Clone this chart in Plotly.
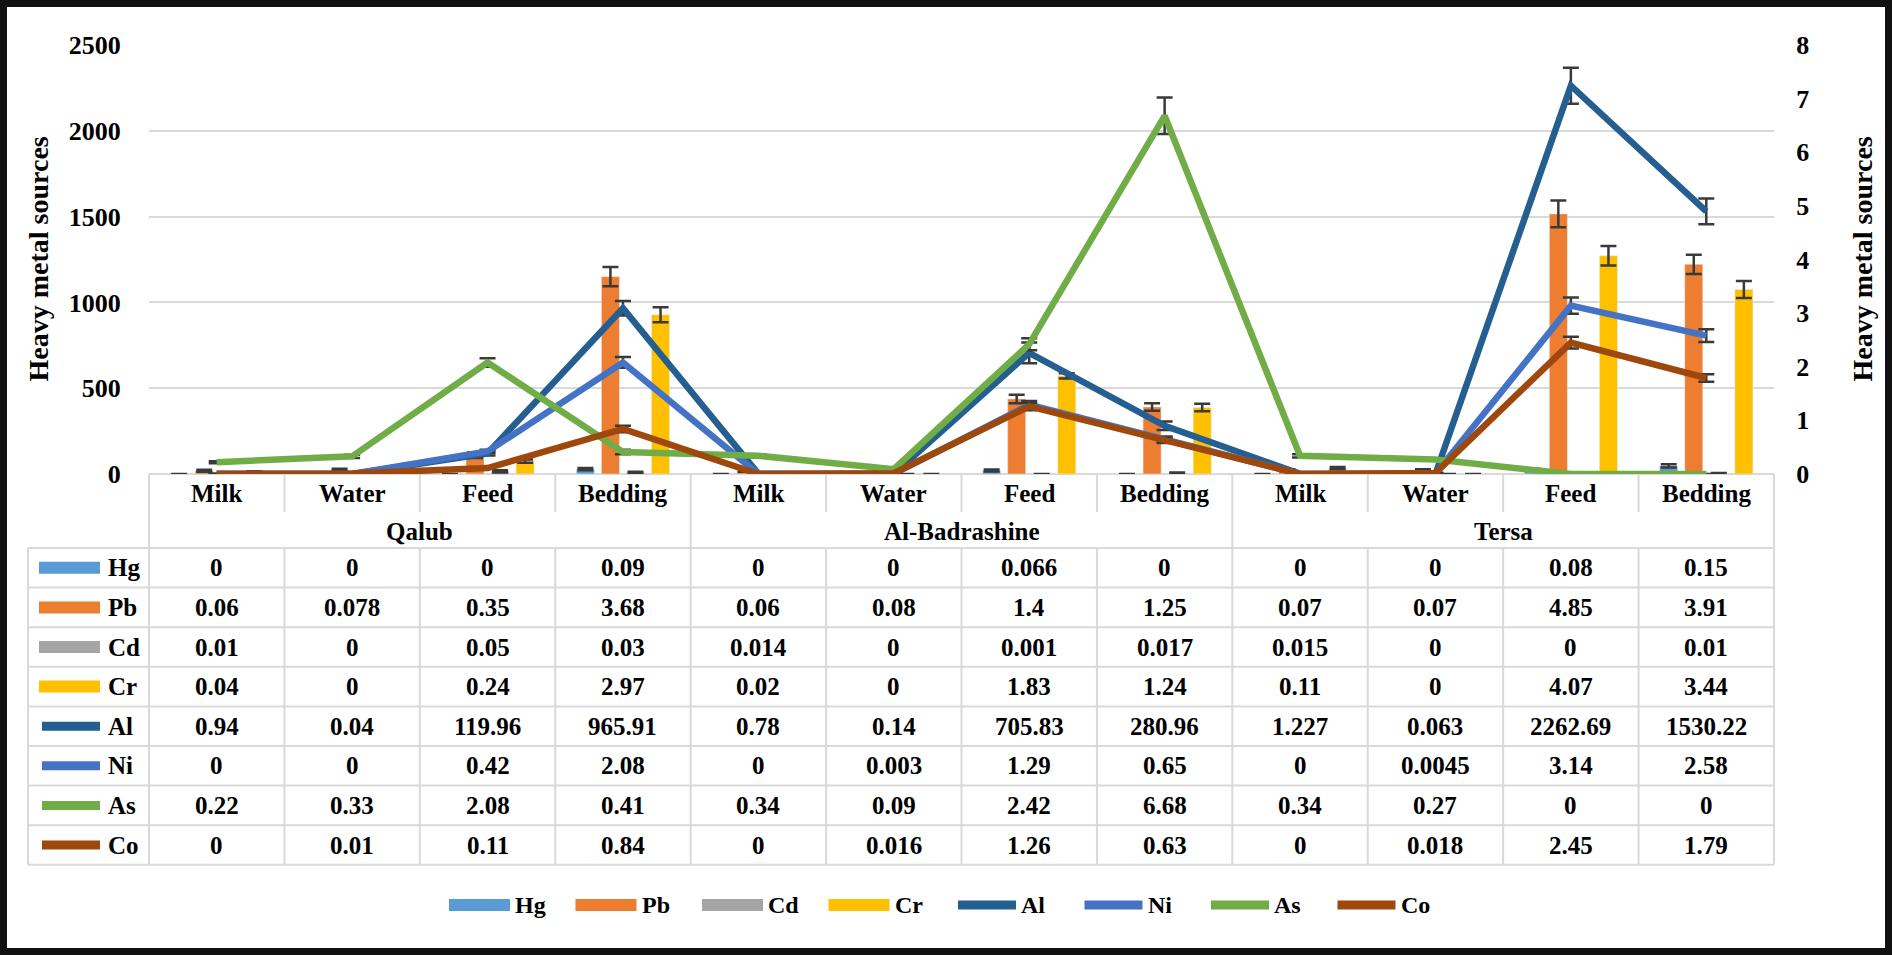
import plotly.graph_objects as go

# categories
sites = ["Qalub", "Al-Badrashine", "Tersa"]
sources = ["Milk", "Water", "Feed", "Bedding"]

# concentrations (bars: Hg, Pb, Cd, Cr; lines: Al, Ni, As, Co)
hg = [0, 0, 0, 0.09, 0, 0, 0.066, 0, 0, 0, 0.08, 0.15]
pb = [0.06, 0.078, 0.35, 3.68, 0.06, 0.08, 1.4, 1.25, 0.07, 0.07, 4.85, 3.91]
cd = [0.01, 0, 0.05, 0.03, 0.014, 0, 0.001, 0.017, 0.015, 0, 0, 0.01]
cr = [0.04, 0, 0.24, 2.97, 0.02, 0, 1.83, 1.24, 0.11, 0, 4.07, 3.44]
al = [0.94, 0.04, 119.96, 965.91, 0.78, 0.14, 705.83, 280.96, 1.227, 0.063, 2262.69, 1530.22]
ni = [0, 0, 0.42, 2.08, 0, 0.003, 1.29, 0.65, 0, 0.0045, 3.14, 2.58]
as_ = [0.22, 0.33, 2.08, 0.41, 0.34, 0.09, 2.42, 6.68, 0.34, 0.27, 0, 0]
co = [0, 0.01, 0.11, 0.84, 0, 0.016, 1.26, 0.63, 0, 0.018, 2.45, 1.79]

# error bar sizes
hg_err = [0, 0, 0, 0.02, 0, 0, 0.02, 0, 0, 0, 0.02, 0.03]
pb_err = [0.02, 0.02, 0.05, 0.18, 0.02, 0.02, 0.08, 0.07, 0.02, 0.02, 0.25, 0.18]
cd_err = [0.01, 0, 0.02, 0.01, 0.01, 0, 0, 0.01, 0.01, 0, 0, 0.01]
cr_err = [0.01, 0, 0.03, 0.14, 0.01, 0, 0.05, 0.07, 0.02, 0, 0.18, 0.16]
al_err = [0.2, 0.01, 12, 42, 0.2, 0.05, 60, 25, 0.3, 0.02, 105, 75]
ni_err = [0, 0, 0.03, 0.1, 0, 0.001, 0.07, 0.05, 0, 0.001, 0.15, 0.12]
as_err = [0.02, 0.03, 0.08, 0.04, 0.03, 0.01, 0.11, 0.34, 0.03, 0.02, 0, 0]
co_err = [0, 0.002, 0.01, 0.06, 0, 0.003, 0.07, 0.05, 0, 0.003, 0.11, 0.07]

left_ticks = [0, 500, 1000, 1500, 2000, 2500]
right_ticks = [0, 1, 2, 3, 4, 5, 6, 7, 8]

series = [
    ("Hg", hg, hg_err, "#5B9BD5", "bar"),
    ("Pb", pb, pb_err, "#ED7D31", "bar"),
    ("Cd", cd, cd_err, "#A5A5A5", "bar"),
    ("Cr", cr, cr_err, "#FFC000", "bar"),
    ("Al", al, al_err, "#255E91", "line"),
    ("Ni", ni, ni_err, "#4472C4", "line"),
    ("As", as_, as_err, "#70AD47", "line"),
    ("Co", co, co_err, "#9E480E", "line"),
]

cats = [f"{s} {src}" for s in sites for src in sources]
FONT = "Liberation Serif"

W, H = 1892, 955
L, R, T, B = 149, 118, 45, 481
PW = W - L - R
PH = H - T - B


def px_x(p):
    return (p - L) / PW


def px_y(p):
    return (H - B - p) / PH


def fmt(v):
    return f"{v:g}"


def label(x, y, text, size=25, xref="paper", xanchor="center", angle=0):
    return dict(x=x, y=y, xref=xref, yref="paper", text=text, showarrow=False,
                xanchor=xanchor, yanchor="middle", textangle=angle,
                font=dict(size=size, family=FONT, color="black", weight="bold"))


fig = go.Figure()
for name, vals, err, color, kind in series:
    eb = dict(type="data", array=err, color="#3a3a3a", thickness=2.5, width=8)
    if kind == "bar":
        fig.add_trace(go.Bar(x=cats, y=vals, name=name, marker_color=color,
                             error_y=eb, yaxis="y", showlegend=False))
    else:
        fig.add_trace(go.Scatter(x=cats, y=vals, name=name, mode="lines",
                                 line=dict(color=color, width=6.5),
                                 error_y=eb, yaxis="y2" if name == "Al" else "y3",
                                 showlegend=False))

shapes = []
annos = []
grid = "#D9D9D9"

# black frame
shapes.append(dict(type="rect", xref="paper", yref="paper",
                   x0=px_x(0), x1=px_x(W), y0=px_y(0), y1=px_y(H),
                   line=dict(color="#111111", width=14)))

# table geometry (px)
hdr_bottom, tbl_top, row_h, tbl_left, lab_left = 512, 548, 39.6, 28, 106
tbl_bottom = tbl_top + row_h * len(series)
n = len(cats)
for k in range(n + 1):
    xk = k / n
    if k % len(sources) == 0:
        shapes.append(dict(type="line", xref="paper", yref="paper", x0=xk, x1=xk,
                           y0=px_y(H - B), y1=px_y(tbl_bottom), line=dict(color=grid, width=2)))
    else:
        shapes.append(dict(type="line", xref="paper", yref="paper", x0=xk, x1=xk,
                           y0=px_y(H - B), y1=px_y(hdr_bottom), line=dict(color=grid, width=2)))
        shapes.append(dict(type="line", xref="paper", yref="paper", x0=xk, x1=xk,
                           y0=px_y(tbl_top), y1=px_y(tbl_bottom), line=dict(color=grid, width=2)))
shapes.append(dict(type="line", xref="paper", yref="paper", x0=px_x(tbl_left), x1=px_x(tbl_left),
                   y0=px_y(tbl_top), y1=px_y(tbl_bottom), line=dict(color=grid, width=2)))
for j in range(len(series) + 1):
    yj = px_y(tbl_top + j * row_h)
    shapes.append(dict(type="line", xref="paper", yref="paper", x0=px_x(tbl_left), x1=1,
                       y0=yj, y1=yj, line=dict(color=grid, width=2)))

# header labels
for i, c in enumerate(cats):
    annos.append(label(i, px_y(493), sources[i % 4], xref="x"))
for g, s in enumerate(sites):
    annos.append(label(g * 4 + 1.5, px_y(531), s, xref="x"))

# table rows
for j, (name, vals, err, color, kind) in enumerate(series):
    yc = tbl_top + (j + 0.5) * row_h
    for i, v in enumerate(vals):
        annos.append(label(i, px_y(yc), fmt(v), xref="x"))
    annos.append(label(px_x(lab_left), px_y(yc), name, xanchor="left"))
    if kind == "bar":
        shapes.append(dict(type="rect", xref="paper", yref="paper", x0=px_x(39), x1=px_x(100),
                           y0=px_y(yc - 6), y1=px_y(yc + 6), fillcolor=color, line=dict(width=0)))
    else:
        shapes.append(dict(type="line", xref="paper", yref="paper", x0=px_x(42), x1=px_x(100),
                           y0=px_y(yc), y1=px_y(yc), line=dict(color=color, width=9)))

# bottom legend
leg_y, leg_x0, leg_step = 905, 449, 126.5
for k, (name, vals, err, color, kind) in enumerate(series):
    sx = leg_x0 + k * leg_step
    if kind == "bar":
        shapes.append(dict(type="rect", xref="paper", yref="paper", x0=px_x(sx), x1=px_x(sx + 61),
                           y0=px_y(leg_y - 6), y1=px_y(leg_y + 6), fillcolor=color, line=dict(width=0)))
    else:
        shapes.append(dict(type="line", xref="paper", yref="paper", x0=px_x(sx + 3), x1=px_x(sx + 61),
                           y0=px_y(leg_y), y1=px_y(leg_y), line=dict(color=color, width=9)))
    annos.append(label(px_x(sx + 64), px_y(leg_y), name, size=24, xanchor="left"))

# axis titles
for xp in (38, 1862):
    annos.append(label(px_x(xp), 0.5, "Heavy metal sources", size=28, angle=-90))

fig.update_layout(
    width=W, height=H,
    margin=dict(l=L, r=R, t=T, b=B),
    paper_bgcolor="white", plot_bgcolor="white",
    font=dict(family=FONT, size=25, color="black", weight="bold"),
    barmode="group", bargap=0.26, bargroupgap=0.28,
    xaxis=dict(type="category", categoryorder="array", categoryarray=cats,
               range=[-0.5, n - 0.5], showticklabels=False, showgrid=False,
               zeroline=False, showline=False),
    yaxis=dict(range=[0, 8], side="right", tickvals=right_ticks, showgrid=False,
               zeroline=False, ticks="outside", ticklen=16, tickcolor="rgba(0,0,0,0)",
               tickfont=dict(size=26)),
    yaxis2=dict(range=[0, 2500], side="left", overlaying="y", tickvals=left_ticks,
                showgrid=True, gridcolor=grid, gridwidth=2, zeroline=True,
                zerolinecolor=grid, zerolinewidth=2, ticks="outside", ticklen=22,
                tickcolor="rgba(0,0,0,0)", tickfont=dict(size=26)),
    yaxis3=dict(range=[0, 8], overlaying="y", visible=False),
    shapes=shapes,
    annotations=annos,
)

fig.write_html("out.html", config={"displayModeBar": False},
               post_script="document.body.style.margin='0';")
